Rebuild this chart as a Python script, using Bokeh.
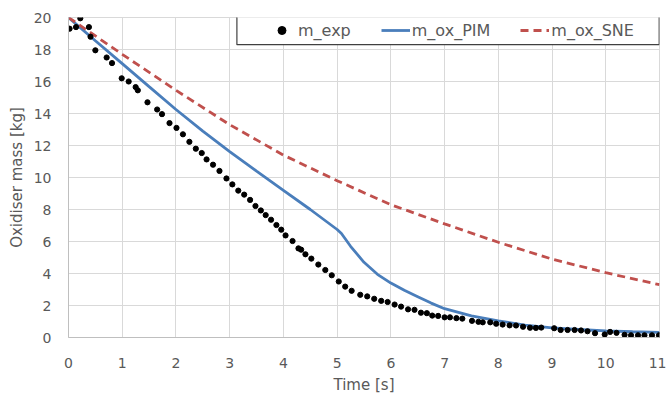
from bokeh.plotting import figure
from bokeh.models import Range1d, SingleIntervalTicker, Legend, LegendItem, BoxAnnotation
from bokeh.embed import file_html
from bokeh.resources import INLINE

# ---- data ----
t_exp = [0.02, 0.14, 0.22, 0.38, 0.41, 0.50, 0.71, 0.81, 0.99, 1.12, 1.25, 1.29, 1.47, 1.65,
         1.74, 1.88, 2.01, 2.13, 2.25, 2.37, 2.48, 2.57, 2.69, 2.81, 2.94, 3.05, 3.16, 3.27,
         3.38, 3.48, 3.58, 3.67, 3.77, 3.87, 3.96, 4.04, 4.17, 4.28, 4.33, 4.41, 4.52, 4.65,
         4.78, 4.90, 5.03, 5.15, 5.27, 5.43, 5.56, 5.69, 5.82, 5.94, 6.07, 6.19, 6.32, 6.44,
         6.56, 6.67, 6.77, 6.88, 7.00, 7.10, 7.22, 7.33, 7.51, 7.63, 7.71, 7.85, 7.96, 8.08,
         8.21, 8.33, 8.46, 8.59, 8.70, 8.80, 9.04, 9.16, 9.29, 9.42, 9.54, 9.66, 9.80, 9.98,
         10.08, 10.20, 10.35, 10.47, 10.60, 10.72, 10.86, 10.99]
m_exp = [19.3, 19.4, 19.95, 19.4, 18.8, 17.95, 17.5, 17.15, 16.2, 16.0, 15.65, 15.45, 14.7, 14.25,
         13.96, 13.4, 13.1, 12.7, 12.23, 11.8, 11.53, 11.13, 10.8, 10.41, 9.94, 9.57, 9.18, 8.93,
         8.6, 8.22, 7.94, 7.65, 7.36, 7.03, 6.74, 6.38, 6.03, 5.57, 5.49, 5.2, 4.93, 4.56,
         4.22, 3.89, 3.5, 3.18, 2.92, 2.67, 2.57, 2.42, 2.29, 2.22, 2.06, 1.93, 1.76, 1.73,
         1.55, 1.52, 1.37, 1.35, 1.26, 1.26, 1.21, 1.18, 1.04, 0.98, 0.95, 0.95, 0.86, 0.81,
         0.76, 0.75, 0.67, 0.61, 0.60, 0.62, 0.58, 0.47, 0.47, 0.47, 0.44, 0.39, 0.27, 0.19,
         0.35, 0.29, 0.17, 0.14, 0.14, 0.14, 0.14, 0.14]

t_pim = [0.0, 0.5, 1.0, 1.5, 2.0, 2.5, 3.0, 3.5, 4.0, 4.5, 5.0, 5.08, 5.25, 5.5, 5.75,
         6.0, 6.25, 6.5, 6.75, 7.0, 7.5, 8.0, 8.5, 9.0, 9.5, 10.0, 10.5, 11.0]
m_pim = [20.0, 18.55, 17.12, 15.68, 14.25, 12.9, 11.62, 10.4, 9.2, 8.0, 6.75, 6.5, 5.7, 4.7, 3.95,
         3.4, 2.95, 2.55, 2.15, 1.8, 1.35, 1.04, 0.78, 0.6, 0.5, 0.42, 0.36, 0.32]

t_sne = [0.0, 1.0, 2.0, 3.0, 4.0, 5.0, 6.0, 7.0, 8.0, 9.0, 10.0, 11.0]
m_sne = [20.0, 17.7, 15.45, 13.3, 11.4, 9.8, 8.3, 7.1, 5.95, 4.9, 4.05, 3.3]

series_names = ["m_exp", "m_ox_PIM", "m_ox_SNE"]
x_title = "Time [s]"
y_title = "Oxidiser mass [kg]"

FONT = "DejaVu Sans"
TXT = "#595959"
GRID = "#d9d9d9"

p = figure(width=666, height=396, output_backend="svg", toolbar_location=None,
           x_range=Range1d(0, 11), y_range=Range1d(0, 20),
           min_border_left=68, min_border_right=7, min_border_top=17, min_border_bottom=57)
p.background_fill_color = "white"
p.border_fill_color = "white"
p.outline_line_color = GRID

p.xaxis.ticker = SingleIntervalTicker(interval=1, num_minor_ticks=0)
p.yaxis.ticker = SingleIntervalTicker(interval=2, num_minor_ticks=0)
p.xgrid.ticker = p.xaxis.ticker
p.ygrid.ticker = p.yaxis.ticker
for g in (p.xgrid, p.ygrid):
    g.grid_line_color = GRID
    g.grid_line_width = 1

for ax in (p.xaxis, p.yaxis):
    ax.axis_line_color = "#bfbfbf"
    ax.major_tick_line_color = None
    ax.minor_tick_line_color = None
    ax.major_tick_out = 0
    ax.major_tick_in = 0
    ax.major_label_text_font = FONT
    ax.major_label_text_font_size = "14px"
    ax.major_label_text_color = TXT
    ax.axis_label_text_font = FONT
    ax.axis_label_text_font_size = "15px"
    ax.axis_label_text_font_style = "normal"
    ax.axis_label_text_color = TXT

p.xaxis.axis_label = x_title
p.yaxis.axis_label = y_title
p.xaxis.major_label_standoff = 20
p.xaxis.axis_label_standoff = 5
p.yaxis.major_label_standoff = 17
p.yaxis.axis_label_standoff = 5

r_pim = p.line(t_pim, m_pim, line_color="#4a7ebb", line_width=2.8)
r_sne = p.line(t_sne, m_sne, line_color="#c0504d", line_width=2.8, line_dash="8 5")
r_exp = p.scatter(t_exp, m_exp, size=5.2, fill_color="black", line_color="black")

box = BoxAnnotation(left=168.4, right=590.7, bottom=292.8, top=321.2,
                    left_units="screen", right_units="screen",
                    top_units="screen", bottom_units="screen",
                    fill_color="white", fill_alpha=1.0,
                    line_color="#404040", line_width=1.2, line_alpha=1.0)
p.add_layout(box)

legend = Legend(items=[LegendItem(label=series_names[0], renderers=[r_exp]),
                       LegendItem(label=series_names[1], renderers=[r_pim]),
                       LegendItem(label=series_names[2], renderers=[r_sne])],
                orientation="horizontal", location=(195, 293), margin=0, padding=4,
                spacing=30, glyph_width=29, glyph_height=20, label_standoff=2,
                label_height=20, border_line_alpha=0, background_fill_alpha=0,
                label_text_font=FONT, label_text_font_size="16px", label_text_color=TXT)
p.add_layout(legend)

open("out.html", "w").write(file_html(p, INLINE))
